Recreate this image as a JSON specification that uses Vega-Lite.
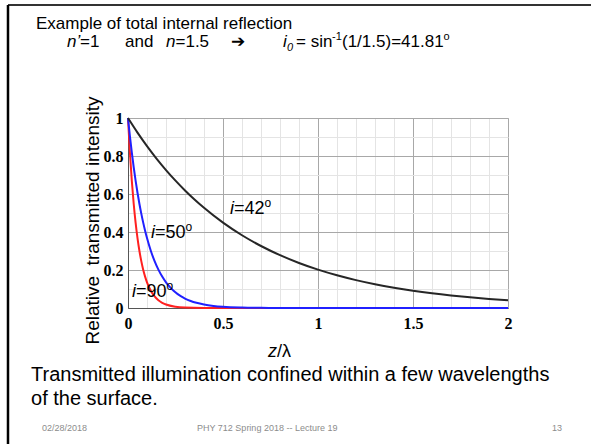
{
  "$schema": "https://vega.github.io/schema/vega-lite/v6.json",
  "width": 380,
  "height": 190,
  "autosize": {"type": "none"},
  "padding": {"left": 128, "top": 118, "right": 83, "bottom": 136},
  "background": "white",
  "config": {
    "view": {"stroke": "#bdbdbd", "strokeWidth": 1},
    "text": {"font": "Liberation Sans", "color": "#000000"}
  },
  "datasets": {
    "red": [
      {"x": 0, "y": 1}, {"x": 0.01, "y": 0.8187}, {"x": 0.02, "y": 0.6703}, {"x": 0.03, "y": 0.5488},
      {"x": 0.04, "y": 0.4493}, {"x": 0.05, "y": 0.3679}, {"x": 0.06, "y": 0.3012}, {"x": 0.07, "y": 0.2466},
      {"x": 0.08, "y": 0.2019}, {"x": 0.09, "y": 0.1653}, {"x": 0.1, "y": 0.1353}, {"x": 0.12, "y": 0.0907},
      {"x": 0.14, "y": 0.0608}, {"x": 0.16, "y": 0.0408}, {"x": 0.18, "y": 0.0273}, {"x": 0.2, "y": 0.0183},
      {"x": 0.25, "y": 0.0067}, {"x": 0.3, "y": 0.0025}, {"x": 0.4, "y": 0.0003}, {"x": 0.5, "y": 0},
      {"x": 1, "y": 0}, {"x": 2, "y": 0}
    ],
    "blue": [
      {"x": 0, "y": 1}, {"x": 0.01, "y": 0.9048}, {"x": 0.02, "y": 0.8187}, {"x": 0.03, "y": 0.7408},
      {"x": 0.04, "y": 0.6703}, {"x": 0.05, "y": 0.6065}, {"x": 0.06, "y": 0.5488}, {"x": 0.07, "y": 0.4966},
      {"x": 0.08, "y": 0.4493}, {"x": 0.09, "y": 0.4066}, {"x": 0.1, "y": 0.3679}, {"x": 0.12, "y": 0.3012},
      {"x": 0.14, "y": 0.2466}, {"x": 0.16, "y": 0.2019}, {"x": 0.18, "y": 0.1653}, {"x": 0.2, "y": 0.1353},
      {"x": 0.22, "y": 0.1108}, {"x": 0.24, "y": 0.0907}, {"x": 0.26, "y": 0.0743}, {"x": 0.28, "y": 0.0608},
      {"x": 0.3, "y": 0.0498}, {"x": 0.33, "y": 0.0369}, {"x": 0.36, "y": 0.0273}, {"x": 0.4, "y": 0.0183},
      {"x": 0.45, "y": 0.0111}, {"x": 0.5, "y": 0.0067}, {"x": 0.6, "y": 0.0025}, {"x": 0.7, "y": 0.0009},
      {"x": 0.8, "y": 0.0003}, {"x": 1, "y": 0}, {"x": 2, "y": 0}
    ],
    "black": [
      {"x": 0, "y": 1}, {"x": 0.05, "y": 0.9231}, {"x": 0.1, "y": 0.8521}, {"x": 0.15, "y": 0.7866},
      {"x": 0.2, "y": 0.7261}, {"x": 0.25, "y": 0.6703}, {"x": 0.3, "y": 0.6188}, {"x": 0.35, "y": 0.5712},
      {"x": 0.4, "y": 0.5273}, {"x": 0.5, "y": 0.4493}, {"x": 0.6, "y": 0.3829}, {"x": 0.7, "y": 0.3263},
      {"x": 0.8, "y": 0.278}, {"x": 0.9, "y": 0.2369}, {"x": 1.0, "y": 0.2019}, {"x": 1.1, "y": 0.172},
      {"x": 1.2, "y": 0.1466}, {"x": 1.3, "y": 0.1249}, {"x": 1.4, "y": 0.1065}, {"x": 1.5, "y": 0.0907},
      {"x": 1.6, "y": 0.0773}, {"x": 1.7, "y": 0.0659}, {"x": 1.8, "y": 0.0561}, {"x": 1.9, "y": 0.0478},
      {"x": 2.0, "y": 0.0408}
    ],
    "notes": [
      {"s": "h", "t": "Example of total internal reflection", "x": -0.4842, "y": 1.4684},
      {"s": "hi", "t": "n’", "x": -0.3211, "y": 1.3737},
      {"s": "h", "t": "=1", "x": -0.2526, "y": 1.3737},
      {"s": "h", "t": "and", "x": -0.0158, "y": 1.3737},
      {"s": "hi", "t": "n", "x": 0.2, "y": 1.3737},
      {"s": "h", "t": "=1.5", "x": 0.25, "y": 1.3737},
      {"s": "h", "t": "➔", "x": 0.5421, "y": 1.3737},
      {"s": "hi", "t": "i", "x": 0.8158, "y": 1.3737},
      {"s": "hsub", "t": "0", "x": 0.8368, "y": 1.3737},
      {"s": "h", "t": "= sin", "x": 0.8842, "y": 1.3737},
      {"s": "hsup", "t": "-1", "x": 1.0737, "y": 1.3737},
      {"s": "h", "t": "(1/1.5)=41.81", "x": 1.1263, "y": 1.3737},
      {"s": "hsup", "t": "o", "x": 1.661, "y": 1.3737},
      {"s": "li", "t": "i", "x": 0.5368, "y": 0.4947},
      {"s": "ln", "t": "=42", "x": 0.5579, "y": 0.4947},
      {"s": "lsup", "t": "o", "x": 0.7184, "y": 0.4947},
      {"s": "li", "t": "i", "x": 0.1211, "y": 0.3684},
      {"s": "ln", "t": "=50", "x": 0.1421, "y": 0.3684},
      {"s": "lsup", "t": "o", "x": 0.3026, "y": 0.3684},
      {"s": "li", "t": "i", "x": 0.0211, "y": 0.0579},
      {"s": "ln", "t": "=90", "x": 0.0421, "y": 0.0579},
      {"s": "lsup", "t": "o", "x": 0.2026, "y": 0.0579},
      {"s": "li", "t": "z", "x": 0.7368, "y": -0.2579},
      {"s": "ln", "t": "/λ", "x": 0.7842, "y": -0.2579},
      {"s": "b", "t": "Transmitted illumination confined within a few wavelengths", "x": -0.5105, "y": -0.3842},
      {"s": "b", "t": "of the surface.", "x": -0.5105, "y": -0.5105},
      {"s": "f", "t": "02/28/2018", "x": -0.4526, "y": -0.6474},
      {"s": "f", "t": "PHY 712  Spring 2018 -- Lecture 19", "x": 0.3632, "y": -0.6474},
      {"s": "f", "t": "13", "x": 2.2316, "y": -0.6474}
    ]
  },
  "layer": [
    {
      "data": {"name": "red"},
      "mark": {"type": "line", "color": "#ff2020", "strokeWidth": 2, "interpolate": "monotone"},
      "encoding": {
        "x": {
          "field": "x", "type": "quantitative", "title": null,
          "scale": {"domain": [0, 2], "nice": false, "zero": false},
          "axis": {
            "values": [0, 0.1, 0.2, 0.3, 0.4, 0.5, 0.6, 0.7, 0.8, 0.9, 1, 1.1, 1.2, 1.3, 1.4, 1.5, 1.6, 1.7, 1.8, 1.9, 2],
            "tickCount": 21,
            "format": "~g",
            "labelExpr": "indexof([0, 0.5, 1, 1.5, 2], datum.value) >= 0 ? datum.label : ''",
            "labelOverlap": false, "labelBound": false, "labelFlush": false,
            "labelFont": "Liberation Serif", "labelFontWeight": "bold", "labelFontSize": 16, "labelColor": "#000000",
            "labelPadding": 7, "ticks": false, "domainColor": "#555555", "domainWidth": 1,
            "grid": true,
            "gridColor": {"condition": {"test": "indexof([0, 0.5, 1, 1.5, 2], datum.value) >= 0", "value": "#a8a8a8"}, "value": "#e4e4e4"},
            "gridOpacity": 1
          }
        },
        "y": {
          "field": "y", "type": "quantitative", "title": "Relative \u00a0transmitted intensity",
          "scale": {"domain": [0, 1], "nice": false, "zero": false},
          "axis": {
            "values": [0, 0.1, 0.2, 0.3, 0.4, 0.5, 0.6, 0.7, 0.8, 0.9, 1],
            "tickCount": 11,
            "format": "~g",
            "labelExpr": "indexof([0, 0.2, 0.4, 0.6, 0.8, 1], datum.value) >= 0 ? datum.label : ''",
            "labelOverlap": false, "labelBound": false, "labelFlush": false,
            "labelFont": "Liberation Serif", "labelFontWeight": "bold", "labelFontSize": 16, "labelColor": "#000000",
            "labelPadding": 5, "ticks": false, "domainColor": "#555555", "domainWidth": 1,
            "grid": true,
            "gridColor": {"condition": {"test": "indexof([0, 0.2, 0.4, 0.6, 0.8, 1], datum.value) >= 0", "value": "#a8a8a8"}, "value": "#e4e4e4"},
            "gridOpacity": 1,
            "titleFont": "Liberation Sans", "titleFontSize": 19, "titleFontWeight": "normal", "titleColor": "#000000",
            "titleX": -36, "titleY": 102, "titleAngle": 270, "titleAlign": "center", "titleBaseline": "middle"
          }
        }
      }
    },
    {
      "data": {"name": "blue"},
      "mark": {"type": "line", "color": "#2020ff", "strokeWidth": 2, "interpolate": "monotone"},
      "encoding": {
        "x": {"field": "x", "type": "quantitative", "title": null},
        "y": {"field": "y", "type": "quantitative"}
      }
    },
    {
      "data": {"name": "black"},
      "mark": {"type": "line", "color": "#262626", "strokeWidth": 2, "interpolate": "monotone"},
      "encoding": {
        "x": {"field": "x", "type": "quantitative", "title": null},
        "y": {"field": "y", "type": "quantitative"}
      }
    },
    {
      "data": {"values": [{}]},
      "mark": {"type": "rule", "color": "#333333", "strokeWidth": 2, "clip": false},
      "encoding": {"x": {"datum": -0.6316}, "x2": {"datum": 2.45}, "y": {"datum": 1.5947}}
    },
    {
      "data": {"values": [{}]},
      "mark": {"type": "rule", "color": "#000000", "strokeWidth": 2.5, "clip": false},
      "encoding": {"x": {"datum": -0.6316}, "y": {"datum": 1.5947}, "y2": {"datum": -0.75}}
    },
    {
      "data": {"name": "notes"},
      "transform": [{"filter": "datum.s == 'h'"}],
      "mark": {"type": "text", "fontSize": 17, "align": "left", "baseline": "alphabetic"},
      "encoding": {
        "x": {"field": "x", "type": "quantitative", "title": null},
        "y": {"field": "y", "type": "quantitative"},
        "text": {"field": "t"}
      }
    },
    {
      "data": {"name": "notes"},
      "transform": [{"filter": "datum.s == 'hi'"}],
      "mark": {"type": "text", "fontSize": 17, "fontStyle": "italic", "align": "left", "baseline": "alphabetic"},
      "encoding": {
        "x": {"field": "x", "type": "quantitative", "title": null},
        "y": {"field": "y", "type": "quantitative"},
        "text": {"field": "t"}
      }
    },
    {
      "data": {"name": "notes"},
      "transform": [{"filter": "datum.s == 'hsub'"}],
      "mark": {"type": "text", "fontSize": 11, "fontStyle": "italic", "align": "left", "baseline": "alphabetic", "dy": 4},
      "encoding": {
        "x": {"field": "x", "type": "quantitative", "title": null},
        "y": {"field": "y", "type": "quantitative"},
        "text": {"field": "t"}
      }
    },
    {
      "data": {"name": "notes"},
      "transform": [{"filter": "datum.s == 'hsup'"}],
      "mark": {"type": "text", "fontSize": 11, "align": "left", "baseline": "alphabetic", "dy": -7},
      "encoding": {
        "x": {"field": "x", "type": "quantitative", "title": null},
        "y": {"field": "y", "type": "quantitative"},
        "text": {"field": "t"}
      }
    },
    {
      "data": {"name": "notes"},
      "transform": [{"filter": "datum.s == 'li'"}],
      "mark": {"type": "text", "fontSize": 18, "fontStyle": "italic", "align": "left", "baseline": "alphabetic"},
      "encoding": {
        "x": {"field": "x", "type": "quantitative", "title": null},
        "y": {"field": "y", "type": "quantitative"},
        "text": {"field": "t"}
      }
    },
    {
      "data": {"name": "notes"},
      "transform": [{"filter": "datum.s == 'ln'"}],
      "mark": {"type": "text", "fontSize": 18, "align": "left", "baseline": "alphabetic"},
      "encoding": {
        "x": {"field": "x", "type": "quantitative", "title": null},
        "y": {"field": "y", "type": "quantitative"},
        "text": {"field": "t"}
      }
    },
    {
      "data": {"name": "notes"},
      "transform": [{"filter": "datum.s == 'lsup'"}],
      "mark": {"type": "text", "fontSize": 12, "align": "left", "baseline": "alphabetic", "dy": -7},
      "encoding": {
        "x": {"field": "x", "type": "quantitative", "title": null},
        "y": {"field": "y", "type": "quantitative"},
        "text": {"field": "t"}
      }
    },
    {
      "data": {"name": "notes"},
      "transform": [{"filter": "datum.s == 'b'"}],
      "mark": {"type": "text", "fontSize": 20, "align": "left", "baseline": "alphabetic"},
      "encoding": {
        "x": {"field": "x", "type": "quantitative", "title": null},
        "y": {"field": "y", "type": "quantitative"},
        "text": {"field": "t"}
      }
    },
    {
      "data": {"name": "notes"},
      "transform": [{"filter": "datum.s == 'f'"}],
      "mark": {"type": "text", "fontSize": 9, "color": "#8c8c8c", "align": "left", "baseline": "alphabetic"},
      "encoding": {
        "x": {"field": "x", "type": "quantitative", "title": null},
        "y": {"field": "y", "type": "quantitative"},
        "text": {"field": "t"}
      }
    }
  ]
}
